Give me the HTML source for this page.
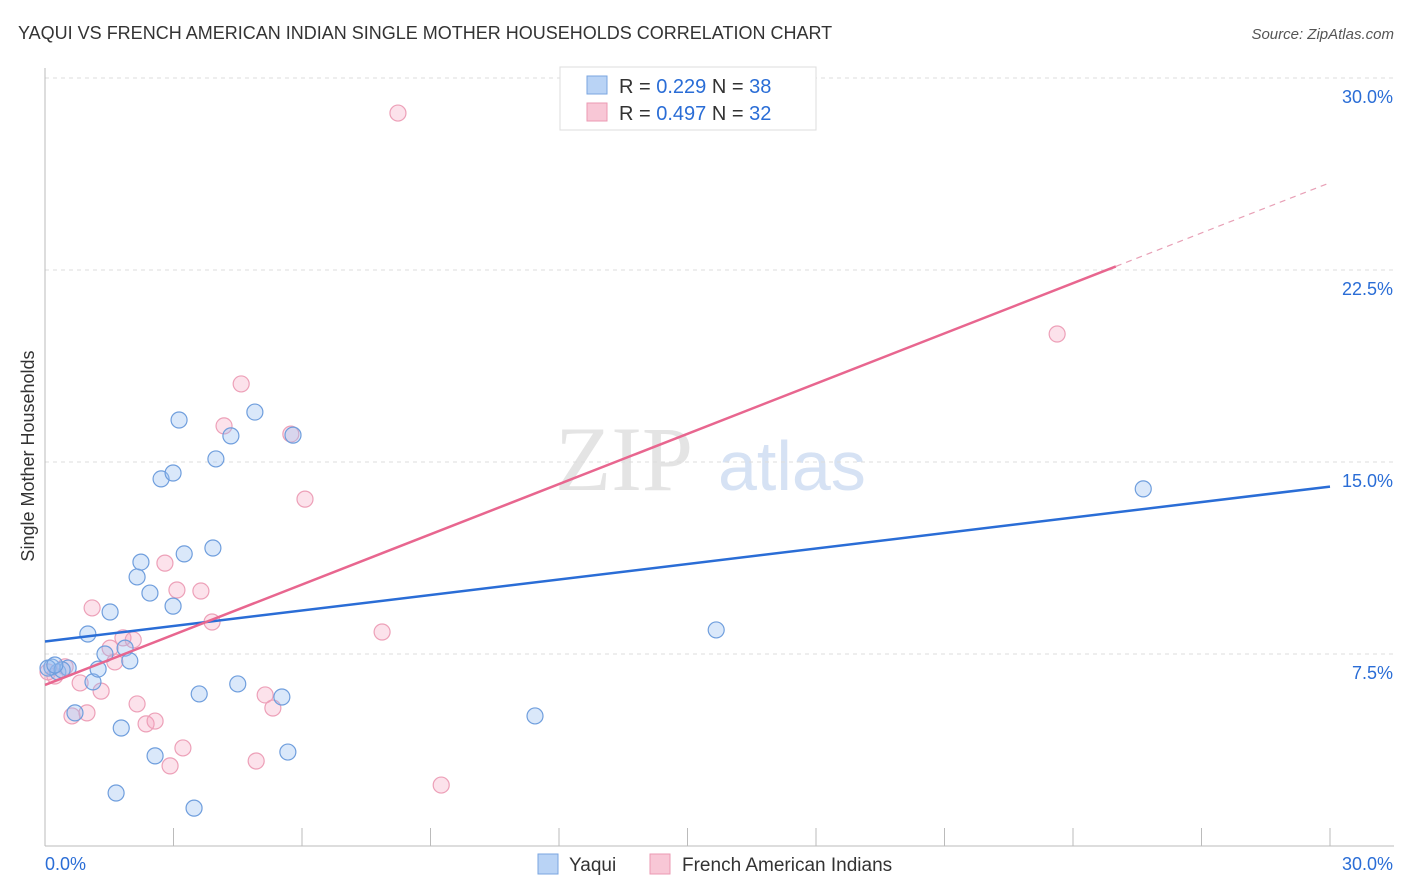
<!DOCTYPE html>
<html><head><meta charset="utf-8">
<style>
body{margin:0;background:#fff;font-family:"Liberation Sans",sans-serif;}
svg{display:block}
</style></head>
<body>
<svg id="chart" width="1406" height="892">
<text x="18" y="39" font-size="18" fill="#333">YAQUI VS FRENCH AMERICAN INDIAN SINGLE MOTHER HOUSEHOLDS CORRELATION CHART</text>
<text x="1394" y="39" font-size="15" fill="#555" font-style="italic" text-anchor="end">Source: ZipAtlas.com</text>
<text x="0" y="0" transform="translate(34,456) rotate(-90)" font-size="18" fill="#333" text-anchor="middle">Single Mother Households</text>
<g><text x="555" y="490" font-size="92" font-family="Liberation Serif" fill="#e4e4e4">ZIP</text><text x="718" y="490" font-size="70" fill="#d6e2f4">atlas</text></g>
<g id="grid"></g><g id="marks"></g><g id="lines"></g>
<g>
<rect x="560" y="67" width="256" height="63" fill="#fff" stroke="#ddd"/>
<rect x="587" y="76" width="20" height="18" fill="#b9d3f5" stroke="#7aa6e0"/>
<rect x="587" y="103" width="20" height="18" fill="#f8c7d6" stroke="#eb9ab3"/>
<text x="619" y="93" font-size="20" fill="#333">R = <tspan fill="#2a6dd6">0.229</tspan>   N = <tspan fill="#2a6dd6">38</tspan></text>
<text x="619" y="120" font-size="20" fill="#333">R = <tspan fill="#2a6dd6">0.497</tspan>   N = <tspan fill="#2a6dd6">32</tspan></text>
</g>
<g>
<rect x="538" y="854" width="20" height="20" fill="#b9d3f5" stroke="#7aa6e0"/>
<text x="569" y="871" font-size="19" fill="#333">Yaqui</text>
<rect x="650" y="854" width="20" height="20" fill="#f8c7d6" stroke="#eb9ab3"/>
<text x="682" y="871" font-size="19" fill="#333">French American Indians</text>
</g>
</svg>
<script>
const yTicks=[7.5,15,22.5,30];
const yTickLabels=["7.5%","15.0%","22.5%","30.0%"];
const xTicks=[0,3,6,9,12,15,18,21,24,27,30];
const yaquiX=[0.16,0.3,0.54,1.0,1.12,1.24,0.7,1.52,1.4,1.78,1.66,1.87,1.98,2.15,2.24,2.45,2.57,2.71,2.99,2.99,3.13,3.25,3.48,3.6,3.92,3.99,4.34,4.5,4.9,5.53,5.67,5.79,11.44,15.67,25.64,0.07,0.4,0.23];
const yaquiY=[6.99,6.8,6.95,8.28,6.41,6.91,5.2,9.14,7.5,4.61,2.07,7.73,7.23,10.51,11.09,9.88,3.52,14.34,9.37,14.57,16.64,11.41,1.48,5.94,11.64,15.12,16.02,6.33,16.95,5.82,3.67,16.05,5.08,8.44,13.95,6.95,6.88,7.07];
const frenchX=[0.07,0.23,0.47,0.63,0.82,0.98,1.1,1.31,1.52,1.63,1.82,2.06,2.15,2.36,2.57,2.8,2.92,3.08,3.22,3.64,3.9,4.18,4.58,4.93,5.14,5.32,5.74,6.07,7.87,8.24,9.25,23.63];
const frenchY=[6.8,6.64,7.0,5.08,6.37,5.2,9.3,6.05,7.73,7.19,8.13,8.05,5.55,4.77,4.88,11.05,3.13,10.0,3.83,9.96,8.75,16.41,18.05,3.32,5.9,5.39,16.09,13.55,8.36,28.63,2.38,20.0];
const yaquiFit=[7.99,14.04];
const frenchFit=[6.29,25.91];
const X=v=>45+v*(1285/30), Y=v=>846-v*25.6;
const NS='http://www.w3.org/2000/svg';
function mk(p,t,a){const e=document.createElementNS(NS,t);for(const k in a)e.setAttribute(k,a[k]);p.appendChild(e);return e;}
const grid=document.getElementById('grid'),marks=document.getElementById('marks'),lines=document.getElementById('lines');
yTicks.forEach((t,i)=>{
 const l=mk(grid,'line',{x1:45,x2:1394,y1:Y(t),y2:Y(t),stroke:'#ddd','stroke-dasharray':'4,4'});
 
 
 const tx=mk(grid,'text',{x:1393,y:Y(t)+25,'font-size':18,fill:'#2a6dd6','text-anchor':'end'});tx.textContent=yTickLabels[i];
 
 
});
const ax=mk(grid,'line',{x1:45,x2:45,y1:68,y2:846,stroke:'#bbb'});


const bx=mk(grid,'line',{x1:45,x2:1394,y1:846,y2:846,stroke:'#bbb'});


xTicks.forEach(t=>{const l=mk(grid,'line',{x1:X(t),x2:X(t),y1:828,y2:846,stroke:'#bbb'});
 
 });
const x0=mk(grid,'text',{x:45,y:870,'font-size':18,fill:'#2a6dd6'});x0.textContent='0.0%';


const x1=mk(grid,'text',{x:1393,y:870,'font-size':18,fill:'#2a6dd6','text-anchor':'end'});x1.textContent='30.0%';


frenchX.forEach((v,i)=>{const c=mk(marks,'circle',{cx:X(v),cy:Y(frenchY[i]),r:8,fill:'rgba(244,160,188,0.3)',stroke:'#eda0b8','stroke-width':1.2});
 
 });
yaquiX.forEach((v,i)=>{const c=mk(marks,'circle',{cx:X(v),cy:Y(yaquiY[i]),r:8,fill:'rgba(150,190,240,0.35)',stroke:'#6f9edd','stroke-width':1.2});
 
 });
const bl=mk(lines,'line',{x1:X(0),y1:Y(yaquiFit[0]),x2:X(30),y2:Y(yaquiFit[1]),stroke:'#2a6dd6','stroke-width':2.5});


const fy=x=>frenchFit[0]+(frenchFit[1]-frenchFit[0])*x/30;
const pl=mk(lines,'line',{x1:X(0),y1:Y(fy(0)),x2:X(25),y2:Y(fy(25)),stroke:'#e8668f','stroke-width':2.5});


const pd=mk(lines,'line',{x1:X(25),y1:Y(fy(25)),x2:X(30),y2:Y(fy(30)),stroke:'#e8a0b6','stroke-width':1.2,'stroke-dasharray':'6,5'});


</script>
</body></html>
